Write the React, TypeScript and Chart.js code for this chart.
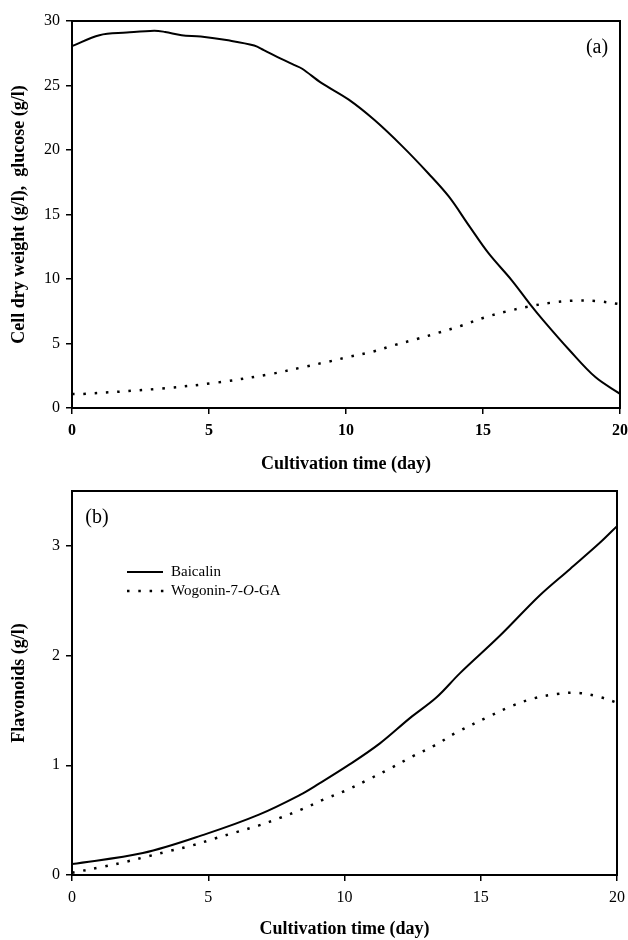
import React, { useEffect, useRef } from "react";
import { Chart, registerables } from "chart.js";

Chart.register(...registerables);

// ---------- data ----------
const GLUCOSE_DAYS = [0, 1, 2, 3, 3.4, 4, 4.7, 5.7, 6.65, 7.0, 7.6, 8.1, 8.4, 9.1, 10.1, 11.05, 12.05, 13.0, 13.75, 14.5, 15.2, 16.05, 16.7, 17.2, 18.15, 19.1, 20];
const GLUCOSE = [28.05, 28.9, 29.1, 29.25, 29.15, 28.9, 28.8, 28.5, 28.1, 27.75, 27.1, 26.6, 26.3, 25.2, 23.9, 22.3, 20.3, 18.2, 16.4, 14.1, 12.0, 9.9, 8.1, 6.8, 4.5, 2.4, 1.1];

const CDW_DAYS = [0, 0.4, 3.2, 5.25, 7.27, 8.5, 9.35, 10.14, 10.96, 11.77, 12.59, 13.38, 14.21, 15.03, 15.83, 16.66, 17.48, 18.3, 19.11, 20];
const CDW = [1.08, 1.09, 1.5, 1.96, 2.64, 3.2, 3.59, 3.98, 4.36, 4.88, 5.35, 5.84, 6.38, 7.0, 7.47, 7.86, 8.16, 8.32, 8.3, 8.05];

const BAICALIN_DAYS = [0, 2.6, 4.93, 6.86, 8.37, 9.05, 10.2, 11.3, 12.4, 13.38, 14.24, 15.7, 17.17, 18.28, 19.38, 20];
const BAICALIN = [0.1, 0.2, 0.375, 0.55, 0.73, 0.83, 1.01, 1.2, 1.43, 1.62, 1.84, 2.18, 2.55, 2.79, 3.03, 3.18];

const WOGONIN_DAYS = [0, 1.15, 1.97, 2.78, 3.6, 4.42, 5.21, 6.02, 6.84, 7.63, 8.45, 9.25, 10.05, 10.87, 11.67, 12.49, 13.3, 14.12, 15.34, 16.13, 16.95, 17.79, 18.58, 19.4, 20];
const WOGONIN = [0.02, 0.076, 0.12, 0.17, 0.22, 0.27, 0.33, 0.39, 0.45, 0.52, 0.6, 0.69, 0.77, 0.87, 0.97, 1.08, 1.18, 1.3, 1.45, 1.54, 1.61, 1.65, 1.66, 1.62, 1.57];

const X_TICK_STEP = 5;
const X_TITLE = "Cultivation time (day)";
const Y_TITLE_A = "Cell dry weight (g/l),  glucose (g/l)";
const Y_TITLE_B = "Flavonoids (g/l)";
const LEGEND_B = ["Baicalin", "Wogonin-7-O-GA"];

const SERIF = '"Liberation Serif", "Times New Roman", serif';
const DOTS = [2.5, 8.8];

const toPts = (xs: number[], ys: number[]) => xs.map((x, i) => ({ x, y: ys[i] }));

const boxPlugin = {
  id: "box",
  afterDatasetsDraw(chart: any) {
    const { ctx, chartArea: a } = chart;
    ctx.save();
    ctx.strokeStyle = "#000";
    ctx.lineWidth = 2;
    ctx.strokeRect(a.left, a.top, a.right - a.left, a.bottom - a.top);
    ctx.restore();
  },
};

function lineDs(data: any[], dotted: boolean, label: string) {
  return {
    label,
    data,
    borderColor: "#000",
    backgroundColor: "#000",
    borderWidth: dotted ? 2.5 : 2,
    borderDash: dotted ? DOTS : [],
    pointRadius: 0,
    fill: false,
    tension: 0.35,
  };
}

function buildOptions(o: {
  yMax: number;
  yStep: number;
  xBold: boolean;
  yTitle: string;
  xHeight: number;
  titleBottomPad: number;
  padTop: number;
  padRight: number;
}) {
  return {
    responsive: false,
    animation: false,
    layout: { padding: { top: o.padTop, right: o.padRight, left: 0, bottom: 0 } },
    plugins: { legend: { display: false }, tooltip: { enabled: false } },
    scales: {
      x: {
        type: "linear",
        min: 0,
        max: 20,
        ticks: {
          stepSize: X_TICK_STEP,
          color: "#000",
          padding: 7,
          font: { family: SERIF, size: 16, weight: o.xBold ? "bold" : "normal" },
        },
        grid: { drawOnChartArea: false, drawTicks: true, tickLength: 6, color: "#000", lineWidth: 1.5 },
        border: { display: false },
        title: {
          display: true,
          text: X_TITLE,
          color: "#000",
          font: { family: SERIF, size: 18, weight: "bold" },
          padding: { top: 0, bottom: o.titleBottomPad },
        },
        afterFit: (s: any) => {
          s.height = o.xHeight;
          s.paddingLeft = 0;
          s.paddingRight = 0;
        },
      },
      y: {
        type: "linear",
        min: 0,
        max: o.yMax,
        ticks: {
          stepSize: o.yStep,
          includeBounds: false,
          color: "#000",
          padding: 6,
          font: { family: SERIF, size: 16 },
        },
        grid: { drawOnChartArea: false, drawTicks: true, tickLength: 6, color: "#000", lineWidth: 1.5 },
        border: { display: false },
        title: {
          display: true,
          text: o.yTitle,
          color: "#000",
          font: { family: SERIF, size: 18, weight: "bold" },
          padding: { top: 9, bottom: 0 },
        },
        afterFit: (s: any) => {
          s.width = 72;
          s.paddingTop = 0;
          s.paddingBottom = 0;
        },
      },
    },
  };
}

function PanelA() {
  const ref = useRef<HTMLCanvasElement>(null);
  useEffect(() => {
    const labelPlugin = {
      id: "labelA",
      afterDraw(chart: any) {
        const { ctx } = chart;
        ctx.save();
        ctx.fillStyle = "#000";
        ctx.font = `20px ${SERIF}`;
        ctx.textAlign = "center";
        ctx.textBaseline = "middle";
        ctx.fillText("(a)", 597, 48);
        ctx.restore();
      },
    };
    const chart = new Chart(ref.current as HTMLCanvasElement, {
      type: "line",
      data: {
        datasets: [
          lineDs(toPts(GLUCOSE_DAYS, GLUCOSE), false, "Glucose"),
          lineDs(toPts(CDW_DAYS, CDW), true, "Cell dry weight"),
        ],
      } as any,
      options: buildOptions({
        yMax: 30,
        yStep: 5,
        xBold: true,
        yTitle: Y_TITLE_A,
        xHeight: 70,
        titleBottomPad: 3,
        padTop: 21,
        padRight: 8,
      }) as any,
      plugins: [boxPlugin, labelPlugin],
    });
    return () => chart.destroy();
  }, []);
  return (
    <canvas
      ref={ref}
      width={628}
      height={478}
      style={{ position: "absolute", left: 0, top: 0, width: 628, height: 478 }}
    />
  );
}

function PanelB() {
  const ref = useRef<HTMLCanvasElement>(null);
  useEffect(() => {
    const labelPlugin = {
      id: "labelB",
      afterDraw(chart: any) {
        const { ctx } = chart;
        ctx.save();
        ctx.fillStyle = "#000";
        ctx.strokeStyle = "#000";
        ctx.font = `20px ${SERIF}`;
        ctx.textAlign = "center";
        ctx.textBaseline = "middle";
        ctx.fillText("(b)", 97, 40);

        // legend
        const x0 = 127;
        const x1 = 163;
        const tx = 171;
        const y1 = 94;
        const y2 = 113;
        ctx.lineWidth = 2;
        ctx.beginPath();
        ctx.moveTo(x0, y1);
        ctx.lineTo(x1, y1);
        ctx.stroke();
        ctx.lineWidth = 2.5;
        ctx.setLineDash(DOTS);
        ctx.beginPath();
        ctx.moveTo(x0, y2);
        ctx.lineTo(x1 + 2, y2);
        ctx.stroke();
        ctx.setLineDash([]);

        ctx.textAlign = "left";
        ctx.font = `15px ${SERIF}`;
        ctx.fillText(LEGEND_B[0], tx, y1);
        // "Wogonin-7-O-GA" with an italic O
        const full = LEGEND_B[1];
        const idx = full.indexOf("-O-");
        const p1 = full.slice(0, idx + 1);
        const p2 = "O";
        const p3 = full.slice(idx + 2);
        let cx = tx;
        ctx.font = `15px ${SERIF}`;
        ctx.fillText(p1, cx, y2);
        cx += ctx.measureText(p1).width;
        ctx.font = `italic 15px ${SERIF}`;
        ctx.fillText(p2, cx, y2);
        cx += ctx.measureText(p2).width;
        ctx.font = `15px ${SERIF}`;
        ctx.fillText(p3, cx, y2);
        ctx.restore();
      },
    };
    const chart = new Chart(ref.current as HTMLCanvasElement, {
      type: "line",
      data: {
        datasets: [
          lineDs(toPts(BAICALIN_DAYS, BAICALIN), false, "Baicalin"),
          lineDs(toPts(WOGONIN_DAYS, WOGONIN), true, "Wogonin-7-O-GA"),
        ],
      } as any,
      options: buildOptions({
        yMax: 3.5,
        yStep: 1,
        xBold: false,
        yTitle: Y_TITLE_B,
        xHeight: 65,
        titleBottomPad: 0,
        padTop: 13,
        padRight: 11,
      }) as any,
      plugins: [boxPlugin, labelPlugin],
    });
    return () => chart.destroy();
  }, []);
  return (
    <canvas
      ref={ref}
      width={628}
      height={462}
      style={{ position: "absolute", left: 0, top: 478, width: 628, height: 462 }}
    />
  );
}

export default function App() {
  return (
    <div style={{ position: "absolute", left: 0, top: 0, width: 628, height: 940, background: "#fff" }}>
      <PanelA />
      <PanelB />
    </div>
  );
}
